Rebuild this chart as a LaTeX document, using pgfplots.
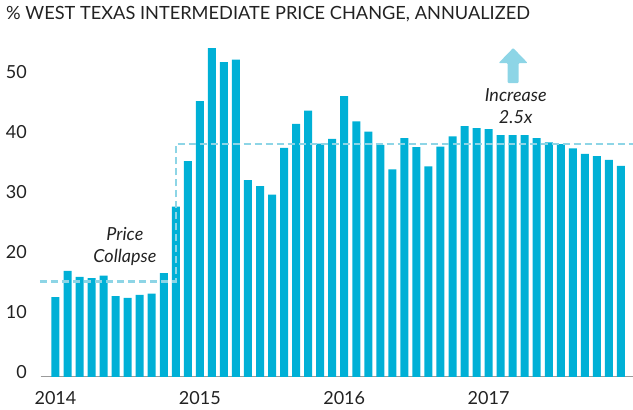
\documentclass[border=0pt]{standalone}
\usepackage{fontspec}
\setmainfont{Lato}
\usepackage{pgfplots}
\usepackage{pgfplotstable}
\pgfplotsset{compat=1.18}
\definecolor{barblue}{HTML}{00B0D6}
\definecolor{dashblue}{HTML}{8DD5E6}
\definecolor{txt}{HTML}{222222}
\definecolor{axisgray}{HTML}{9A9A9A}

% monthly values, Jan 2014 = 0
\pgfplotstableread{
i v
0 13.3
1 17.7
2 16.7
3 16.5
4 16.9
5 13.5
6 13.2
7 13.7
8 13.9
9 17.3
10 28.4
11 36.0
12 46.0
13 54.8
14 52.5
15 52.9
16 32.8
17 31.8
18 30.4
19 38.2
20 42.2
21 44.4
22 38.9
23 39.7
24 46.8
25 42.6
26 40.9
27 38.7
28 34.6
29 39.8
30 38.3
31 35.1
32 38.4
33 40.1
34 41.8
35 41.5
36 41.3
37 40.3
38 40.3
39 40.3
40 39.8
41 39.1
42 38.8
43 38.1
44 37.2
45 36.8
46 36.2
47 35.2
}\wti

\pgfplotstableread{
i v
-1.29 15.9
10 15.9
10 38.8
48 38.8
}\levels

\begin{document}
\begin{tikzpicture}
\begin{axis}[
  scale only axis, width=592.3pt, height=336pt,
  xmin=-1.23, xmax=48, ymin=0, ymax=56,
  axis x line*=bottom, axis y line*=left,
  x axis line style={axisgray, line width=1pt},
  y axis line style={draw=none},
  xtick={0,12,24,36}, xticklabels={2014,2015,2016,2017},
  ytick={0,10,...,50},
  tick style={draw=none}, major tick length=0pt,
  /pgf/number format/assume math mode=true,
  ticklabel style={font=\fontsize{18}{21}\selectfont, text=txt, inner sep=0pt},
  xticklabel style={anchor=base, yshift=-27.5pt},
  yticklabel style={anchor=base east, xshift=-13.7pt, yshift=-1.5pt},
  clip=false]
\addplot[ybar, bar width=8pt, fill=barblue, draw=none] table[x=i, y=v] {\wti};
\addplot[dashblue, line width=2.5pt, dash pattern=on 7pt off 4pt] table[x=i, y=v] {\levels};
\coordinate (sw) at (rel axis cs:0,0);
\coordinate (ab) at (axis cs:38.04,49);
\fill[dashblue, rounded corners=1pt]
  ([xshift=-5.5pt]ab) -- ([xshift=-5.5pt, yshift=20pt]ab) -- ([xshift=-14.5pt, yshift=20pt]ab)
  -- ([yshift=35pt]ab) -- ([xshift=14.5pt, yshift=20pt]ab) -- ([xshift=5.5pt, yshift=20pt]ab)
  -- ([xshift=5.5pt]ab) -- cycle;
\node[align=center, text=txt, font=\itshape\fontsize{18}{21.7}\selectfont] at (axis cs:5.77,21.8) {Price\\Collapse};
\node[align=center, text=txt, font=\itshape\fontsize{18}{21.7}\selectfont] at (axis cs:38.25,45.2) {Increase\\2.5x};
\node[anchor=base west, inner sep=0pt, text=txt, font=\fontsize{18.2}{21}\selectfont, xshift=-34.7pt, yshift=21.7pt] at (rel axis cs:0,1) {\% WEST TEXAS INTERMEDIATE PRICE CHANGE, ANNUALIZED};
\end{axis}
\pgfresetboundingbox
\path ([xshift=-40.7pt, yshift=-33pt]sw) rectangle ([xshift=592.3pt, yshift=377pt]sw);
\end{tikzpicture}
\end{document}
